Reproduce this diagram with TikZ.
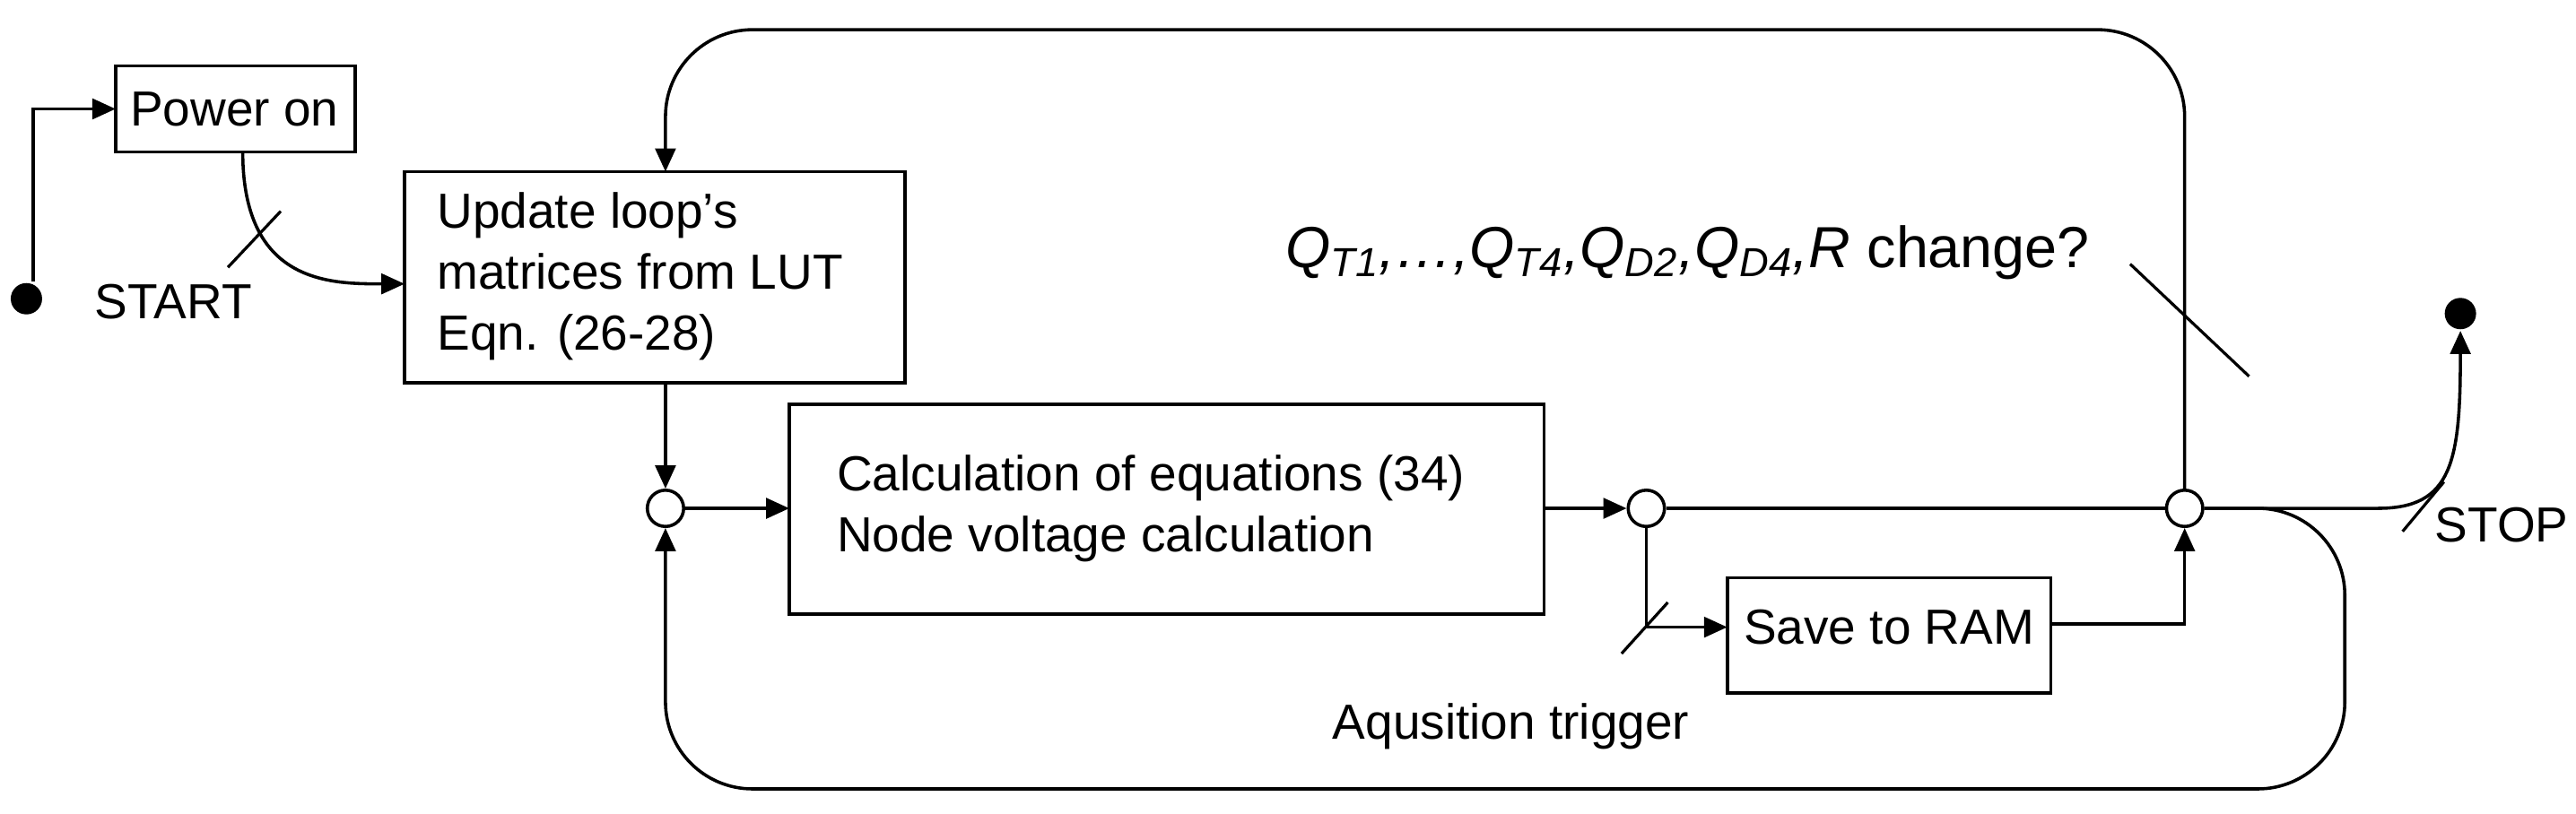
\documentclass[tikz,border=0pt]{standalone}
\usepackage{fontspec}
\setmainfont{Liberation Sans}
\usetikzlibrary{arrows.meta}
\begin{document}
\begin{tikzpicture}[x=0.02cm,y=-0.02cm,line width=1.1pt,
  txt/.style={font=\fontsize{17}{21}\selectfont,align=left},
  circ/.style={draw,circle,minimum size=0.44cm,inner sep=0pt,fill=white},
  dot/.style={circle,fill,minimum size=0.38cm,inner sep=0pt},
  arr/.style={-{Triangle[length=8pt,width=7pt]}},
  tick/.style={line width=1pt}]
\useasboundingbox (0,0) rectangle (1560,493);
% boxes
\draw (70,40) rectangle (215,92);
\node[txt] (pow) at (142,66) {Power on};
\coordinate (powB) at (147,92);
\draw (245,104) rectangle (548,232);
\node[txt,anchor=north west] (upd) at (258,110) {Update loop’s\\matrices from LUT\\Eqn. (26-28)};
\draw (478,245) rectangle (935,372);
\node[txt,anchor=west] (calc) at (500,308) {Calculation of equations (34)\\Node voltage calculation};
\draw (1046,350) rectangle (1242,420);
\node[txt] (save) at (1144,380) {Save to RAM};
% circles, dots
\node[circ] (c1) at (403,308) {};
\node[circ] (c2) at (997,308) {};
\node[circ] (c3) at (1323,308) {};
\node[dot] (start) at (16,181) {};
\node[dot] (stop) at (1490,190) {};
% texts
\node[txt] (st) at (105,183) {START};
\node[txt] (sp) at (1515,318) {STOP};
\node[txt] (aq) at (915,440) {Aqusition trigger};
\node[font=\fontsize{20}{24}\selectfont\itshape] (q) at (1022,153) {Q\textsubscript{T1},…,Q\textsubscript{T4},Q\textsubscript{D2},Q\textsubscript{D4},R\upshape{} change?};
% connectors
\draw[arr] (start.north) ++(4,0) |- (70,66);
\draw[arr] (powB) .. controls (147,172) and (200,172) .. (245,172);
\draw[tick] (138,162) -- (170,128);
\draw[arr] (403,232) -- (c1);
\draw[arr] (c1) -- (478,308);
\draw[arr] (935,308) -- (c2);
\draw (c2) -- (c3);
\draw[arr] (c2.south) |- (1046,380);
\draw[tick] (982,396) -- (1010,365);
\draw[arr] (1242,378) -| (c3.south);
\draw[arr,rounded corners=30pt] (c3.north) -- (1323,18) -- (403,18) -- (403,104);
\draw[tick] (1290,160) -- (1362,228);
\draw[arr,rounded corners=30pt] (c3.east) -- (1420,308) -- (1420,478) -- (403,478) -- (c1.south);
\draw[arr] (c3.east) -- (1440,308) .. controls (1485,308) and (1490,280) .. (stop.south);
\draw[tick] (1455,322) -- (1480,292);
\end{tikzpicture}
\end{document}
